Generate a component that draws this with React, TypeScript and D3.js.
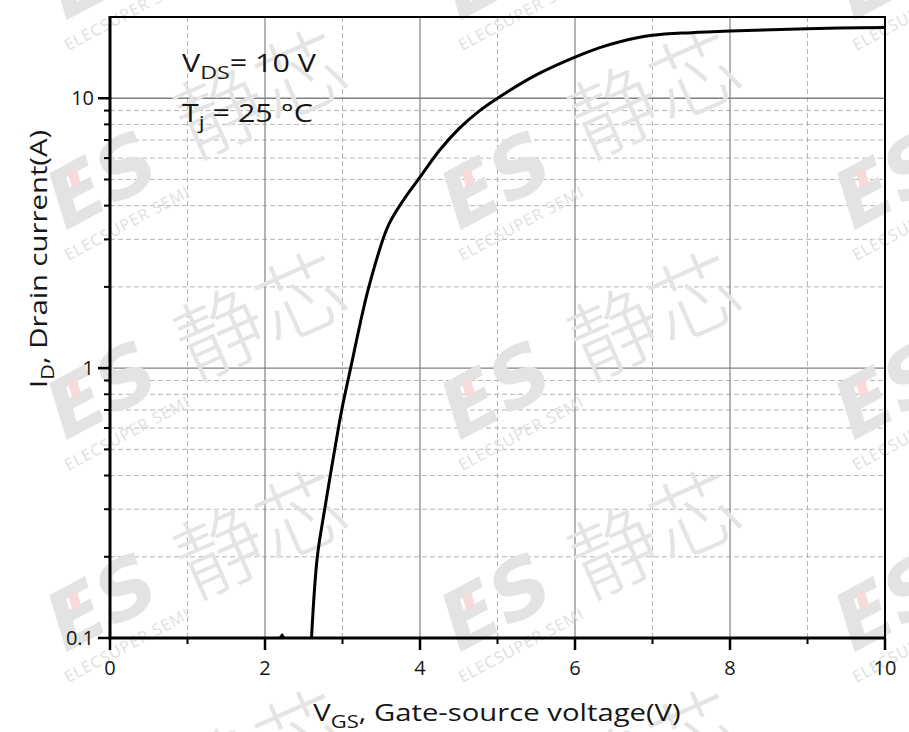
import React from "react";
import * as d3 from "d3";

// ---- data ----
const vgs = [2.6, 2.675, 2.77, 2.9, 2.99, 3.105, 3.34, 3.59, 3.8, 4.0, 4.25, 4.5, 4.75, 5.0, 5.5, 6.0, 6.32, 6.58, 7.0, 7.5, 8.0, 9.0, 10.0];
const idA = [0.1, 0.2, 0.3, 0.5, 0.7, 1.0, 2.0, 3.37, 4.25, 5.1, 6.4, 7.7, 8.9, 10.0, 12.2, 14.2, 15.4, 16.2, 17.1, 17.5, 17.75, 18.1, 18.3];
const strayV = [2.19, 2.22, 2.25];
const strayI = [0.1, 0.1025, 0.1];

const xMajorTicks = [0, 2, 4, 6, 8, 10];
const xMinorTicks = [1, 3, 5, 7, 9];
const yMajorTicks = [0.1, 1, 10];
const yMajorLabels = ["0.1", "1", "10"];
const yMinorTicks = [0.2, 0.3, 0.4, 0.5, 0.6, 0.7, 0.8, 0.9, 2, 3, 4, 5, 6, 7, 8, 9];

const xDomain = [0, 10];
const yDomain = [0.1, 20];

// watermark layout (decoration)
const wmCols = [127, 521, 915];
const wmRows = [13, 223, 433, 645];
const cnCols = [258, 652];
const cnRows = [88, 310, 528, 748];

const W = 909;
const H = 732;
const L = 110, R = 885, T = 17, B = 638;
const FONT = "'Open Sans', 'Noto Sans', sans-serif";
const INK = "#161616";

function SText(props: {
  x: number;
  y: number;
  sx?: number;
  rotate?: number;
  anchor?: string;
  size: number;
  children: React.ReactNode;
}) {
  const { x, y, sx = 1.22, rotate = 0, anchor = "start", size, children } = props;
  return (
    <g transform={`translate(${x},${y}) rotate(${rotate}) scale(${sx},1)`}>
      <text x={0} y={0} textAnchor={anchor} fontFamily={FONT} fontSize={size} fill={INK}>
        {children}
      </text>
    </g>
  );
}

export default function App() {
  const x = d3.scaleLinear().domain(xDomain).range([L, R]);
  const y = d3.scaleLog().domain(yDomain).range([B, T]);
  const pts: [number, number][] = vgs.map((v, i) => [v, idA[i]]);
  const line = d3
    .line<[number, number]>()
    .x((d) => x(d[0]))
    .y((d) => y(d[1]))
    .curve(d3.curveCatmullRom.alpha(0.5));
  const stray: [number, number][] = strayV.map((v, i) => [v, strayI[i]]);
  const strayLine = d3
    .line<[number, number]>()
    .x((d) => x(d[0]))
    .y((d) => y(d[1]));

  const wm: React.ReactNode[] = [];
  wmRows.forEach((ry, ri) =>
    wmCols.forEach((cx, ci) => {
      wm.push(
        <g key={`es${ri}-${ci}`} transform={`translate(${cx},${ry}) rotate(-28)`}>
          <text x={-2} y={-22} textAnchor="middle" fontFamily="'DejaVu Sans', sans-serif" fontWeight={700} fontSize={80} fill="#e3e3e3" fontStyle="italic">
            ES
          </text>
          <rect x={-44} y={-72} width={10} height={16} fill="#f7dada" transform="skewX(-12)" />
          <text x={0} y={6} textAnchor="middle" fontFamily={FONT} fontSize={16} letterSpacing={1} fill="#e0e0e0">
            ELECSUPER SEMI
          </text>
        </g>
      );
    })
  );
  cnRows.forEach((ry, ri) =>
    cnCols.forEach((cx, ci) => {
      wm.push(
        <text
          key={`cn${ri}-${ci}`}
          transform={`translate(${cx},${ry}) rotate(-24)`}
          textAnchor="middle"
          dominantBaseline="central"
          fontFamily="'Noto Sans CJK SC', sans-serif"
          fontWeight={300}
          fontSize={88}
          fill="#e4e4e4"
        >
          静芯
        </text>
      );
    })
  );

  return (
    <svg width={W} height={H} style={{ position: "absolute", left: 0, top: 0, background: "#fff" }}>
      <rect x={0} y={0} width={W} height={H} fill="#fff" />
      {/* grid */}
      {yMinorTicks.map((t) => (
        <line key={`gy${t}`} x1={L} x2={R} y1={y(t)} y2={y(t)} stroke="#b4b4b4" strokeWidth={1} strokeDasharray="5,3" />
      ))}
      {xMinorTicks.map((t) => (
        <line key={`gx${t}`} x1={x(t)} x2={x(t)} y1={T} y2={B} stroke="#b4b4b4" strokeWidth={1} strokeDasharray="5,3" />
      ))}
      {yMajorTicks.slice(1).map((t) => (
        <line key={`Gy${t}`} x1={L} x2={R} y1={y(t)} y2={y(t)} stroke="#808080" strokeWidth={1.4} />
      ))}
      {xMajorTicks.slice(1, -1).map((t) => (
        <line key={`Gx${t}`} x1={x(t)} x2={x(t)} y1={T} y2={B} stroke="#808080" strokeWidth={1.2} />
      ))}
      {/* watermark */}
      <g>{wm}</g>
      {/* curve */}
      <path d={line(pts) || ""} fill="none" stroke="#000" strokeWidth={3} strokeLinejoin="round" />
      <path d={strayLine(stray) || ""} fill="none" stroke="#000" strokeWidth={2.5} />
      {/* frame */}
      <rect x={L} y={T} width={R - L} height={B - T} fill="none" stroke="#000" strokeWidth={2} />
      <line x1={L} x2={L} y1={T - 1} y2={B + 1.5} stroke="#000" strokeWidth={3} />
      <line x1={L - 1.5} x2={R + 1} y1={B} y2={B} stroke="#000" strokeWidth={3} />
      {/* x ticks */}
      {xMajorTicks.map((t) => (
        <g key={`xt${t}`}>
          <line x1={x(t)} x2={x(t)} y1={B} y2={B + 12} stroke="#000" strokeWidth={2.5} />
          <text x={x(t)} y={675} textAnchor="middle" fontFamily={FONT} fontSize={20} fill={INK}>
            {t}
          </text>
        </g>
      ))}
      {xMinorTicks.map((t) => (
        <line key={`xm${t}`} x1={x(t)} x2={x(t)} y1={B} y2={B + 6} stroke="#000" strokeWidth={2} />
      ))}
      {/* y ticks */}
      {yMajorTicks.map((t, i) => (
        <g key={`yt${t}`}>
          <line x1={L - 12} x2={L} y1={y(t)} y2={y(t)} stroke="#000" strokeWidth={2.5} />
          <text x={L - 16} y={y(t)} dy="0.35em" textAnchor="end" fontFamily={FONT} fontSize={20} fill={INK}>
            {yMajorLabels[i]}
          </text>
        </g>
      ))}
      {yMinorTicks.map((t) => (
        <line key={`ym${t}`} x1={L - 6} x2={L} y1={y(t)} y2={y(t)} stroke="#000" strokeWidth={2} />
      ))}
      {/* annotations */}
      <SText x={182} y={72} size={25}>
        V<tspan fontSize={19} dy={7}>DS</tspan>
        <tspan dy={-7}>= 10 V</tspan>
      </SText>
      <SText x={182} y={122} size={25}>
        T<tspan fontSize={19} dy={7}>j</tspan>
        <tspan dy={-7}> = 25 °C</tspan>
      </SText>
      {/* axis labels */}
      <SText x={497} y={721} size={24} anchor="middle">
        V<tspan fontSize={18} dy={7}>GS</tspan>
        <tspan dy={-7}>, Gate-source voltage(V)</tspan>
      </SText>
      <SText x={47} y={259} size={24} anchor="middle" rotate={-90}>
        I<tspan fontSize={18} dy={7}>D</tspan>
        <tspan dy={-7}>, Drain current(A)</tspan>
      </SText>
    </svg>
  );
}
